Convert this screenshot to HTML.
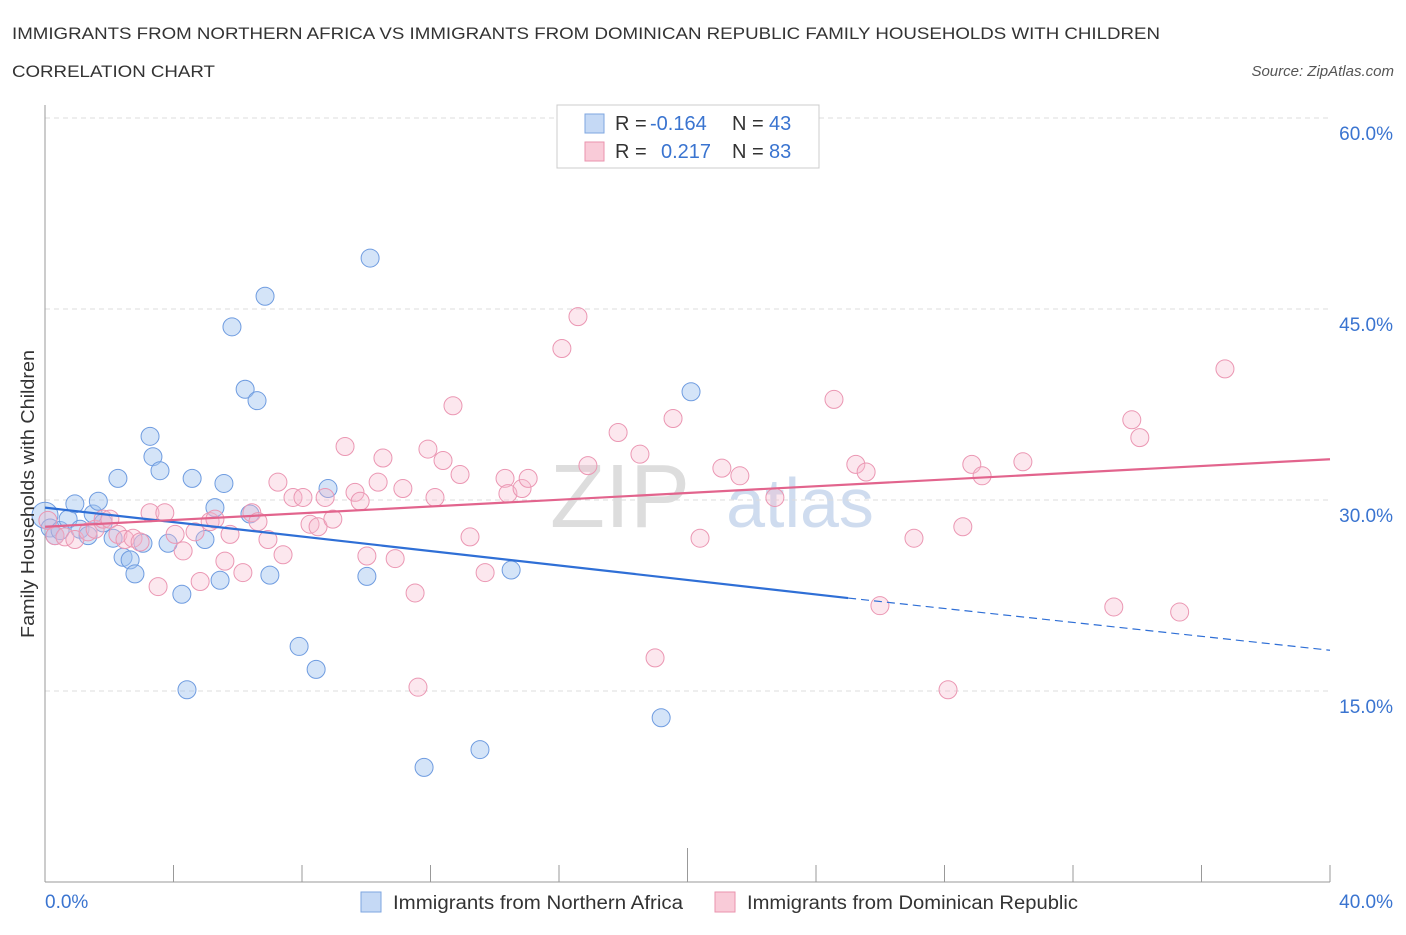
<!DOCTYPE html>
<html><head><meta charset="utf-8"><style>
body{margin:0;background:#fff;font-family:"Liberation Sans",sans-serif;}
svg text{font-family:"Liberation Sans",sans-serif;}
</style></head><body>
<svg id="chart" width="1406" height="930">
<text x="12" y="39" font-size="17" fill="#333" textLength="1148" lengthAdjust="spacingAndGlyphs">IMMIGRANTS FROM NORTHERN AFRICA VS IMMIGRANTS FROM DOMINICAN REPUBLIC FAMILY HOUSEHOLDS WITH CHILDREN</text>
<text x="12" y="77" font-size="17" fill="#333" textLength="203" lengthAdjust="spacingAndGlyphs">CORRELATION CHART</text>
<text x="1394" y="76" font-size="15" fill="#555" font-style="italic" text-anchor="end">Source: ZipAtlas.com</text>
<text x="620" y="527" font-size="90" fill="#ddd" font-family="Liberation Serif" text-anchor="middle">ZIP</text>
<text x="800" y="527" font-size="70" fill="#cfdcef" text-anchor="middle">atlas</text>
<g id="grid"></g><g id="axes"></g><g id="pts"></g><g id="lines"></g>
<text x="34" y="494" font-size="18" fill="#333" transform="rotate(-90 34 494)" text-anchor="middle" textLength="288" lengthAdjust="spacingAndGlyphs">Family Households with Children</text>
<text x="45" y="908" font-size="19" fill="#3a74d0">0.0%</text>
<text x="1393" y="908" font-size="19" fill="#3a74d0" text-anchor="end">40.0%</text>
<g>
<rect x="557" y="105" width="262" height="63" fill="#fff" stroke="#ccc"/>
<rect x="585" y="114" width="19" height="19" fill="#c5d9f5" stroke="#7ea6e0"/>
<rect x="585" y="142" width="19" height="19" fill="#f9cbd8" stroke="#ea93ae"/>
<text x="615" y="130" font-size="20" fill="#333">R = <tspan x="650" fill="#3a74d0">-0.164</tspan><tspan x="732">N = </tspan><tspan x="769" fill="#3a74d0">43</tspan></text>
<text x="615" y="158" font-size="20" fill="#333">R = <tspan x="661" fill="#3a74d0">0.217</tspan><tspan x="732">N = </tspan><tspan x="769" fill="#3a74d0">83</tspan></text>
</g>
<g>
<rect x="361" y="892" width="20" height="20" fill="#c5d9f5" stroke="#7ea6e0"/>
<text x="393" y="909" font-size="19" fill="#333" textLength="290" lengthAdjust="spacingAndGlyphs">Immigrants from Northern Africa</text>
<rect x="715" y="892" width="20" height="20" fill="#f9cbd8" stroke="#ea93ae"/>
<text x="747" y="909" font-size="19" fill="#333" textLength="331" lengthAdjust="spacingAndGlyphs">Immigrants from Dominican Republic</text>
</g>
</svg>
<script>
const yTicks=[15,30,45,60];
const blueX=[0.0,0.16,0.31,0.47,0.72,0.93,1.09,1.34,1.5,1.66,1.81,2.12,2.27,2.43,2.65,2.8,3.05,3.27,3.36,3.58,3.83,4.26,4.42,4.58,4.98,5.29,5.45,5.57,5.82,6.23,6.38,6.6,6.85,7.0,7.91,8.44,8.81,10.02,10.12,11.8,13.54,14.51,19.18,20.11];
const blueY=[28.8,27.8,27.2,27.6,28.5,29.7,27.7,27.2,28.9,29.9,28.2,27.0,31.7,25.5,25.3,24.2,26.6,35.0,33.4,32.3,26.6,22.6,15.1,31.7,26.9,29.4,23.7,31.3,43.6,38.7,28.9,37.8,46.0,24.1,18.5,16.7,30.9,24.0,49.0,9.0,10.4,24.5,12.9,38.5];
const pinkX=[0.09,0.31,0.62,0.93,1.34,1.56,1.81,2.02,2.27,2.49,2.74,2.96,3.27,3.52,3.73,4.05,4.3,4.67,4.83,5.14,5.29,5.6,5.76,6.16,6.44,6.63,6.94,7.25,7.41,7.72,8.03,8.25,8.5,8.72,8.96,9.34,9.65,9.81,10.02,10.37,10.52,10.9,11.14,11.52,11.61,11.92,12.14,12.39,12.7,12.92,13.23,13.7,14.32,14.41,14.85,15.04,16.09,16.59,16.9,17.84,18.52,18.99,19.55,20.39,21.07,21.63,22.72,24.56,25.24,25.56,25.99,27.05,28.11,28.57,28.85,29.17,30.44,33.27,33.83,34.08,35.32,36.73];
const pinkY=[28.4,27.2,27.1,26.9,27.5,27.7,28.5,28.5,27.3,26.9,27.0,26.7,29.0,23.2,29.0,27.3,26.0,27.5,23.6,28.3,28.5,25.2,27.3,24.3,29.0,28.3,26.9,31.4,25.7,30.2,30.2,28.1,27.9,30.2,28.5,34.2,30.6,29.9,25.6,31.4,33.3,25.4,30.9,22.7,15.3,34.0,30.2,33.1,37.4,32.0,27.1,24.3,31.7,30.5,30.9,31.7,41.9,44.4,32.7,35.3,33.6,17.6,36.4,27.0,32.5,31.9,30.2,37.9,32.8,32.2,21.7,27.0,15.1,27.9,32.8,31.9,33.0,21.6,36.3,34.9,21.2,40.3];
const blueTrend=[[0,29.4],[25,22.3]], blueDash=[[25,22.3],[40,18.2]];
const pinkTrend=[[0,27.9],[40,33.2]];
const xs=v=>45+v/40*1285, ys=v=>882-v/15*191;
const NS='http://www.w3.org/2000/svg';
function mk(t,a,p){const e=document.createElementNS(NS,t);for(const k in a)e.setAttribute(k,a[k]);p.appendChild(e);return e;}
const grid=document.getElementById('grid'),axes=document.getElementById('axes'),pts=document.getElementById('pts'),lines=document.getElementById('lines');
yTicks.forEach(t=>{const g=mk('line',{x1:45,x2:1330,y1:ys(t),y2:ys(t),stroke:'#ddd','stroke-dasharray':'5,4'},grid);


const l=mk('text',{x:1393,y:ys(t)+22,'font-size':19,fill:'#3a74d0','text-anchor':'end'},grid);l.textContent=t.toFixed(1)+'%';

});
const ya=mk('line',{x1:45,x2:45,y1:105,y2:882,stroke:'#999'},axes);


const xa=mk('line',{x1:45,x2:1330,y1:882,y2:882,stroke:'#999'},axes);


for(let i=0;i<=10;i++){const x=xs(i*4);const tk=mk('line',{x1:x,x2:x,y1:882,y2:i==5?848:865,stroke:'#999'},axes);

}
blueX.forEach((v,i)=>{const c=mk('circle',{cx:xs(v),cy:ys(blueY[i]),r:i==0?13:9,fill:'rgba(160,195,240,0.45)',stroke:'#6f9ce0','stroke-width':1},pts);

});
pinkX.forEach((v,i)=>{const c=mk('circle',{cx:xs(v),cy:ys(pinkY[i]),r:9,fill:'rgba(246,185,205,0.35)',stroke:'#eb97b3','stroke-width':1},pts);

});
const bl=mk('line',{x1:xs(blueTrend[0][0]),y1:ys(blueTrend[0][1]),x2:xs(blueTrend[1][0]),y2:ys(blueTrend[1][1]),stroke:'#2f6fd6','stroke-width':2.2},lines);


const bd=mk('line',{x1:xs(blueDash[0][0]),y1:ys(blueDash[0][1]),x2:xs(blueDash[1][0]),y2:ys(blueDash[1][1]),stroke:'#2f6fd6','stroke-width':1.2,'stroke-dasharray':'8,5'},lines);


const pl=mk('line',{x1:xs(pinkTrend[0][0]),y1:ys(pinkTrend[0][1]),x2:xs(pinkTrend[1][0]),y2:ys(pinkTrend[1][1]),stroke:'#e2648d','stroke-width':2.2},lines);


</script>
</body></html>
